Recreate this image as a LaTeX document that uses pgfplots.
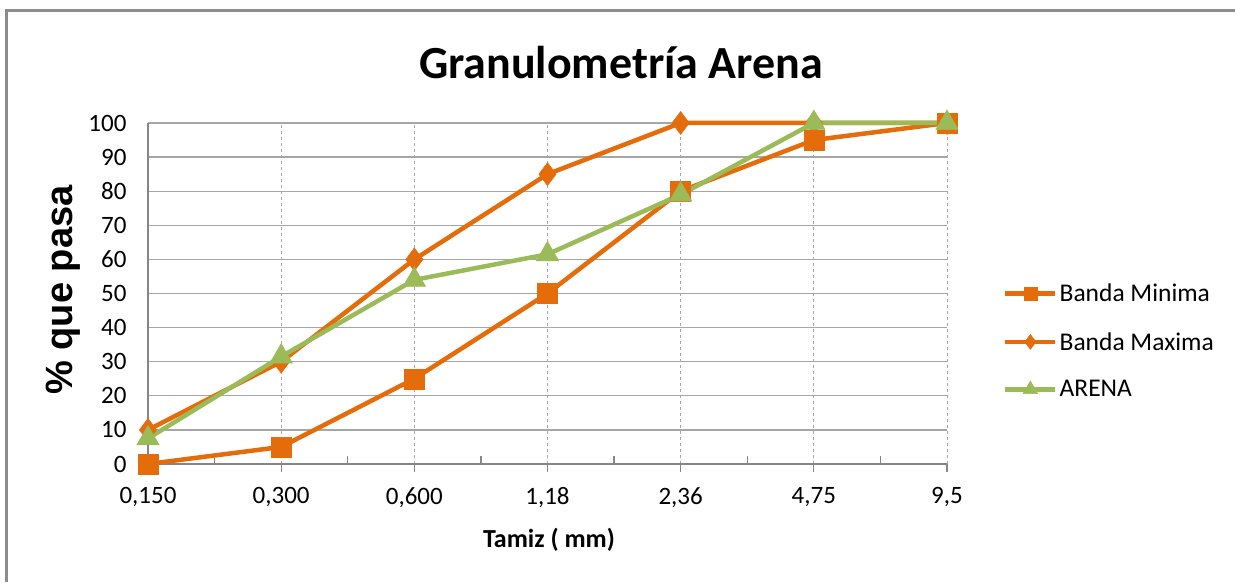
\documentclass[border=0pt]{standalone}
\usepackage{fontspec}
\setmainfont{Carlito}
\newfontfamily\arialfont{Liberation Sans}
\usepackage{pgfplots}
\pgfplotsset{compat=1.18}
\definecolor{orng}{HTML}{E46C0A}
\definecolor{grn}{HTML}{9BBB59}
\definecolor{gridc}{HTML}{A6A6A6}
\definecolor{axc}{HTML}{868686}
\definecolor{framec}{HTML}{8C8C8C}
\begin{document}
\begin{tikzpicture}[x=1pt,y=1pt]
\path[use as bounding box] (0,0) rectangle (1235,582);
\draw[framec, line width=3pt] (6.5,0) -- (6.5,571.5) -- (1235,571.5);
\node[font=\fontsize{46}{52}\selectfont\bfseries] at (621,519) {Granulometría Arena};
\node[font=\fontsize{38}{44}\selectfont\arialfont\bfseries, rotate=90] at (63,292) {\% que pasa};
\node[font=\fontsize{26}{30}\selectfont\bfseries] at (549,42) {Tamiz ( mm)};
\begin{axis}[
  at={(148pt,118pt)}, anchor=south west,
  scale only axis, width=799pt, height=341pt,
  xmin=0, xmax=6, ymin=0, ymax=100,
  clip=false,
  axis x line*=bottom, axis y line*=left,
  axis line style={axc, line width=1.5pt, -},
  xtick={0,...,6},
  xticklabels={{0,150},{0,300},{0,600},{1,18},{2,36},{4,75},{9,5}},
  minor x tick num=1,
  ytick={0,10,...,100},
  tick label style={font=\fontsize{25}{29}\selectfont},
  /pgf/number format/assume math mode=true,
  xtick align=outside,
  major tick length=8pt, minor tick length=8pt,
  x tick style={axc, line width=1.2pt},
  minor x tick style={yshift=8pt},
  y tick style={draw=none},
  xmajorgrids, ymajorgrids,
  x grid style={gridc, dashed, line width=1pt},
  y grid style={gridc, line width=1.3pt},
  xticklabel style={yshift=-12pt},
  yticklabel style={xshift=-18pt},
  legend style={at={(1.07,0.534)}, anchor=north west, draw=none, fill=none,
    font=\fontsize{25.5}{30}\selectfont, row sep=25pt, inner sep=0pt},
  legend cell align=left,
  legend image code/.code={
    \draw[#1, every mark/.append style={scale=0.65}, mark repeat=2, mark phase=2]
      plot coordinates {(0pt,0pt) (25pt,0pt) (50pt,0pt)};
  },
]
\addplot[orng, line width=4.5pt, mark=square*, mark size=10pt, mark options={line width=0.5pt, fill=orng}]
  coordinates {(0,0) (1,5) (2,25) (3,50) (4,80) (5,95) (6,100)};
\addlegendentry{Banda Minima}
\addplot[orng, line width=4.5pt, mark=diamond*, mark size=11.5pt, mark options={line width=0.5pt, fill=orng}]
  coordinates {(0,10) (1,30) (2,60) (3,85) (4,100) (5,100) (6,100)};
\addlegendentry{Banda Maxima}
\addplot[grn, line width=4.5pt, mark=triangle*, mark size=13pt, mark options={line width=0.5pt, fill=grn}]
  coordinates {(0,7.5) (1,31.5) (2,54) (3,61.5) (4,79) (5,100) (6,100)};
\addlegendentry{ARENA}
\end{axis}
\end{tikzpicture}
\end{document}
